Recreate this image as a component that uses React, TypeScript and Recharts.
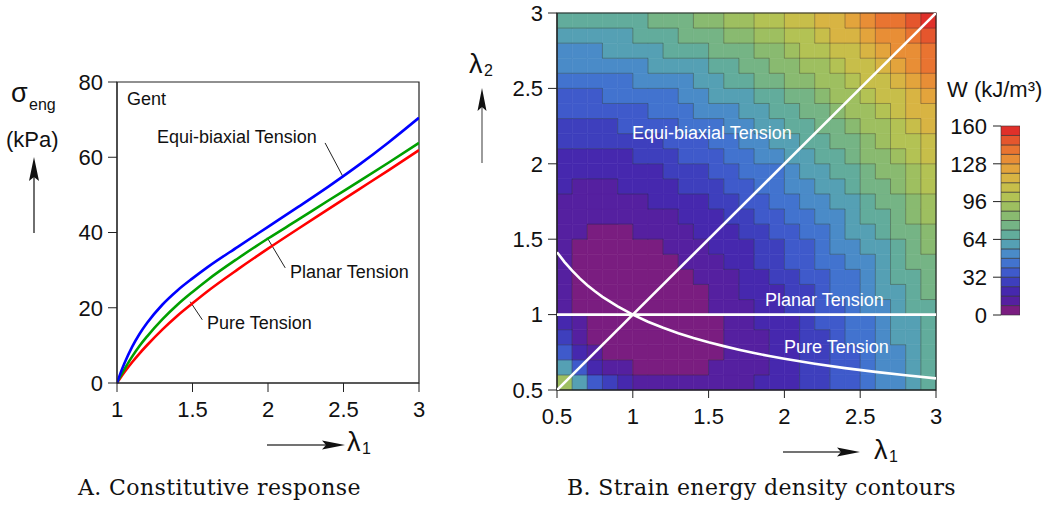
import React from 'react'
import {
  LineChart,
  Line,
  ComposedChart,
  Scatter,
  BarChart,
  Bar,
  XAxis,
  YAxis,
  ReferenceArea,
  ReferenceLine
} from 'recharts'

// ---------- panel A: constitutive response (Gent) ----------

const lambdaA = [1, 1.02, 1.05, 1.1, 1.15, 1.2, 1.3, 1.4, 1.5, 1.6, 1.8, 2, 2.2, 2.4, 2.6, 2.8, 3]
const pureStress = [0, 1.2, 2.9, 5.5, 7.9, 10.1, 14.2, 17.9, 21.2, 24.4, 30.2, 35.7, 41.0, 46.2, 51.4, 56.6, 61.9]
const planarStress = [0, 1.6, 3.7, 7.0, 9.9, 12.4, 16.9, 20.8, 24.2, 27.4, 33.1, 38.4, 43.4, 48.5, 53.5, 58.6, 63.8]
const equiStress = [0, 2.3, 5.3, 9.6, 13.1, 16.0, 20.8, 24.6, 27.8, 30.8, 36.2, 41.5, 46.8, 52.2, 57.9, 64.0, 70.5]
const stressTicks = [0, 20, 40, 60, 80]
const stretchTicksA = [1, 1.5, 2, 2.5, 3]

// leader lines from labels to curves (lambda, stress)
const leaderEqui = [{ x: 2.378, y: 63.8 }, { x: 2.497, y: 54.8 }]
const leaderPlanar = [{ x: 2.114, y: 30.6 }, { x: 1.995, y: 38.6 }]
const leaderPure = [{ x: 1.565, y: 16.8 }, { x: 1.485, y: 21.6 }]

// ---------- panel B: strain energy density W (kJ/m^3) ----------

// cell centres along lambda1 and lambda2
const cellCenters = [
  0.55, 0.65, 0.75, 0.85, 0.95, 1.05, 1.15, 1.25, 1.35, 1.45, 1.55, 1.65, 1.75,
  1.85, 1.95, 2.05, 2.15, 2.25, 2.35, 2.45, 2.55, 2.65, 2.75, 2.85, 2.95
]

// rows: lambda2 from 0.55 (bottom) to 2.95 (top); columns: lambda1 from 0.55 to 2.95
const energyGrid = [
  [89, 57, 38, 26, 19, 14, 11, 10, 9, 10, 11, 12.5, 14.5, 17, 20, 23, 27, 31, 35, 39, 44, 49, 54.5, 60, 66],
  [57, 35, 22, 14, 9.5, 7, 5, 5, 5, 6.5, 8.1, 10, 12.7, 15.5, 18.6, 22, 26, 30, 34, 39, 44, 49, 54.4, 60, 66],
  [38, 22, 13, 7.5, 4, 3, 2, 3, 4, 5, 7, 9, 12, 15, 18.5, 22, 26, 30, 35, 39, 44, 49.6, 55, 61, 67],
  [26, 14, 7.5, 3.6, 1.6, 0.8, 0.9, 1.7, 3, 4.8, 7, 9.6, 12.5, 15.6, 19, 23, 27, 31, 35.6, 40.4, 45, 51, 56.2, 62, 68],
  [19, 9.5, 4, 1.6, 0.3, 0.1, 0.6, 1.7, 3.3, 5.3, 7.7, 10.4, 13.4, 16.6, 20, 23.9, 28, 32.4, 37, 42, 47, 52, 58, 63.6, 70],
  [14, 7, 3, 0.8, 0.1, 0.3, 1.1, 2.5, 4.2, 6.4, 8.9, 11.7, 14.7, 18, 21.7, 25.5, 29.6, 34, 38.6, 43.5, 48.6, 54, 59.6, 65.5, 71.6],
  [11, 5, 2, 0.9, 0.6, 1.1, 2.2, 3.7, 5.6, 7.9, 10.5, 13.3, 16.5, 19.9, 23.5, 27.4, 31.6, 36, 40.6, 45.5, 50.7, 56.1, 61.7, 67.6, 73.8],
  [10, 5, 3, 1.7, 1.7, 2.5, 3.7, 5.4, 7.4, 9.7, 12.4, 15.3, 18.5, 22, 25.7, 29.6, 33.8, 38.2, 42.9, 47.8, 53, 58.4, 64.1, 70, 76.2],
  [9, 5, 4, 3, 3.3, 4.2, 5.6, 7.4, 9.5, 11.9, 14.6, 17.6, 20.9, 24.3, 28.1, 32.1, 36.3, 40.8, 45.5, 50.4, 55.6, 61, 66.8, 72.7, 78.9],
  [10, 6.5, 5, 4.8, 5.3, 6.4, 7.9, 9.7, 11.9, 14.4, 17.2, 20.2, 23.5, 27, 30.8, 34.8, 39, 43.5, 48.3, 53.2, 58.5, 63.9, 69.6, 75.6, 81.9],
  [11, 8.1, 7, 7, 7.7, 8.9, 10.5, 12.4, 14.6, 17.2, 20, 23, 26.3, 29.9, 33.7, 37.8, 42, 46.5, 51.3, 56.3, 61.5, 67, 72.8, 78.8, 85],
  [12.5, 10, 9, 9.6, 10.4, 11.7, 13.3, 15.3, 17.6, 20.2, 23, 26.1, 29.5, 33.1, 36.9, 41, 45.3, 49.8, 54.6, 59.6, 64.9, 70.4, 76.2, 82.2, 88.5],
  [14.5, 12.7, 12, 12.5, 13.4, 14.7, 16.5, 18.5, 20.9, 23.5, 26.3, 29.5, 32.9, 36.5, 40.3, 44.4, 48.7, 53.3, 58.1, 63.1, 68.4, 74, 79.8, 85.8, 92.1],
  [17, 15.5, 15, 15.6, 16.6, 18, 19.9, 22, 24.3, 27, 29.9, 33.1, 36.5, 40.1, 44, 48.1, 52.4, 57, 61.9, 66.9, 72.2, 77.8, 83.6, 89.7, 96.1],
  [20, 18.6, 18.5, 19, 20, 21.7, 23.5, 25.7, 28.1, 30.8, 33.7, 36.9, 40.3, 44, 47.9, 52, 56.4, 61, 65.9, 70.9, 76.3, 81.9, 87.7, 93.8, 100.2],
  [23, 22, 22, 23, 23.9, 25.5, 27.4, 29.6, 32.1, 34.8, 37.8, 41, 44.4, 48.1, 52, 56.2, 60.6, 65.2, 70.1, 75.2, 80.6, 86.2, 92.1, 98.2, 104.6],
  [27, 26, 26, 27, 28, 29.6, 31.6, 33.8, 36.3, 39, 42, 45.3, 48.7, 52.4, 56.4, 60.6, 65, 69.6, 74.5, 79.7, 85.1, 90.7, 96.7, 102.8, 109.3],
  [31, 30, 30, 31, 32.4, 34, 36, 38.2, 40.8, 43.5, 46.5, 49.8, 53.3, 57, 61, 65.2, 69.6, 74.3, 79.3, 84.4, 89.9, 95.5, 101.5, 107.7, 114.2],
  [35, 34, 35, 35.6, 37, 38.6, 40.6, 42.9, 45.5, 48.3, 51.3, 54.6, 58.1, 61.9, 65.9, 70.1, 74.5, 79.3, 84.2, 89.4, 94.9, 100.6, 106.6, 112.8, 119.3],
  [39, 39, 39, 40.4, 42, 43.5, 45.5, 47.8, 50.4, 53.2, 56.3, 59.6, 63.1, 66.9, 70.9, 75.2, 79.7, 84.4, 89.4, 94.7, 100.2, 105.9, 111.9, 118.2, 124.7],
  [44, 44, 44, 45, 47, 48.6, 50.7, 53, 55.6, 58.5, 61.5, 64.9, 68.4, 72.2, 76.3, 80.6, 85.1, 89.9, 94.9, 100.2, 105.7, 111.5, 117.5, 123.8, 130.4],
  [49, 49, 49.6, 51, 52, 54, 56.1, 58.4, 61, 63.9, 67, 70.4, 74, 77.8, 81.9, 86.2, 90.7, 95.5, 100.6, 105.9, 111.5, 117.3, 123.3, 129.7, 136.3],
  [54.5, 54.4, 55, 56.2, 58, 59.6, 61.7, 64.1, 66.8, 69.6, 72.8, 76.2, 79.8, 83.6, 87.7, 92.1, 96.7, 101.5, 106.6, 111.9, 117.5, 123.3, 129.5, 135.8, 142.5],
  [60, 60, 61, 62, 63.6, 65.5, 67.6, 70, 72.7, 75.6, 78.8, 82.2, 85.8, 89.7, 93.8, 98.2, 102.8, 107.7, 112.8, 118.2, 123.8, 129.7, 135.8, 142.3, 148.9],
  [66, 66, 67, 68, 70, 71.6, 73.8, 76.2, 78.9, 81.9, 85, 88.5, 92.1, 96.1, 100.2, 104.6, 109.3, 114.2, 119.3, 124.7, 130.4, 136.3, 142.5, 148.9, 155.7]
]

const contourLevels = [0, 8, 16, 24, 32, 40, 48, 56, 64, 72, 80, 88, 96, 104, 112, 120, 128, 136, 144, 152, 160]
const bandColors = [
  '#7a1d80', '#5520a0', '#4628ae', '#3e3fbd', '#3f5acb', '#4273cf', '#4a8bc8',
  '#55a0b4', '#62ac9c', '#75b485', '#89ba70', '#9ebf60', '#b3c254', '#c7be4a',
  '#d8b443', '#e3a43c', '#e88e36', '#e97431', '#e5562d', '#e0302a'
]
const energyTicks = [0, 32, 64, 96, 128, 160]
const stretchTicksB = [0.5, 1, 1.5, 2, 2.5, 3]

// loading paths in the (lambda1, lambda2) plane
const equiPath = [{ x: 0.5, y: 0.5 }, { x: 3, y: 3 }]
const pureL1 = [0.5, 0.55, 0.6, 0.65, 0.7, 0.75, 0.8, 0.9, 1, 1.1, 1.2, 1.3, 1.4, 1.5, 1.6, 1.7, 1.8, 1.9, 2, 2.2, 2.4, 2.6, 2.8, 3]
const pureL2 = [1.414, 1.348, 1.291, 1.24, 1.195, 1.155, 1.118, 1.054, 1, 0.953, 0.913, 0.877, 0.845, 0.816, 0.791, 0.767, 0.745, 0.725, 0.707, 0.674, 0.645, 0.62, 0.598, 0.577]
const planarLambda2 = 1

const SANS = '"Liberation Sans", Arial, Helvetica, sans-serif'
const SERIF = '"DejaVu Serif", "Liberation Serif", serif'
const tickStyle = { fontSize: 22, fill: '#111', fontFamily: SANS }

function Txt({ x, y, size = 18, color = '#111', family = SANS, spacing = 0, children }: any) {
  return (
    <div
      style={{
        position: 'absolute',
        left: x,
        top: y,
        fontSize: size,
        lineHeight: 1,
        color,
        fontFamily: family,
        letterSpacing: spacing,
        whiteSpace: 'nowrap'
      }}
    >
      {children}
    </div>
  )
}

function bandOf(w: number) {
  let i = 0
  while (i < bandColors.length - 1 && w >= contourLevels[i + 1]) i++
  return i
}

function PanelA() {
  const rows = lambdaA.map((l, i) => ({
    lambda: l,
    pure: pureStress[i],
    planar: planarStress[i],
    equi: equiStress[i]
  }))
  return (
    <div style={{ position: 'absolute', left: 0, top: 0 }}>
      <LineChart width={440} height={440} data={rows} margin={{ top: 82, right: 21, bottom: 27, left: 57 }}>
        <XAxis
          type="number"
          dataKey="lambda"
          domain={[1, 3]}
          ticks={stretchTicksA}
          allowDataOverflow
          height={30}
          tickSize={9}
          tickMargin={9}
          stroke="#222"
          tick={tickStyle}
        />
        <YAxis
          type="number"
          domain={[0, 80]}
          ticks={stressTicks}
          width={60}
          tickSize={9}
          tickMargin={5}
          stroke="#222"
          tick={tickStyle}
        />
        <ReferenceArea x1={1} x2={3} y1={0} y2={80} fill="none" stroke="#222" strokeWidth={1.2} />
        <ReferenceLine segment={leaderEqui} stroke="#222" strokeWidth={1} />
        <ReferenceLine segment={leaderPlanar} stroke="#222" strokeWidth={1} />
        <ReferenceLine segment={leaderPure} stroke="#222" strokeWidth={1} />
        <Line type="monotone" dataKey="pure" stroke="#ff0000" strokeWidth={2.6} dot={false} isAnimationActive={false} />
        <Line type="monotone" dataKey="planar" stroke="#00a000" strokeWidth={2.6} dot={false} isAnimationActive={false} />
        <Line type="monotone" dataKey="equi" stroke="#0000ff" strokeWidth={2.6} dot={false} isAnimationActive={false} />
      </LineChart>
    </div>
  )
}

function PanelB() {
  const half = 0.05
  const cells = energyGrid.flatMap((row, r) =>
    row.map((w, c) => (
      <ReferenceArea
        key={`c-${r}-${c}`}
        x1={cellCenters[c] - half}
        x2={cellCenters[c] + half}
        y1={cellCenters[r] - half}
        y2={cellCenters[r] + half}
        fill={bandColors[bandOf(w)]}
        fillOpacity={1}
        stroke={bandColors[bandOf(w)]}
        strokeWidth={0.6}
      />
    ))
  )

  // thin dark edges where neighbouring cells fall in different bands
  const edges: any[] = []
  energyGrid.forEach((row, r) => {
    row.forEach((w, c) => {
      const b = bandOf(w)
      const x = cellCenters[c]
      const y = cellCenters[r]
      if (c < row.length - 1 && bandOf(row[c + 1]) !== b) {
        edges.push(
          <ReferenceLine
            key={`v-${r}-${c}`}
            segment={[{ x: x + half, y: y - half }, { x: x + half, y: y + half }]}
            stroke="#2a2a2a"
            strokeOpacity={0.45}
            strokeWidth={0.8}
          />
        )
      }
      if (r < energyGrid.length - 1 && bandOf(energyGrid[r + 1][c]) !== b) {
        edges.push(
          <ReferenceLine
            key={`h-${r}-${c}`}
            segment={[{ x: x - half, y: y + half }, { x: x + half, y: y + half }]}
            stroke="#2a2a2a"
            strokeOpacity={0.45}
            strokeWidth={0.8}
          />
        )
      }
    })
  })

  const purePath = pureL1.map((x, i) => ({ x, y: pureL2[i] }))
  const planarPath = [{ x: 0.5, y: planarLambda2 }, { x: 3, y: planarLambda2 }]
  const lineProps = { stroke: '#ffffff', strokeWidth: 2.6 }
  return (
    <div style={{ position: 'absolute', left: 480, top: 0 }}>
      <ComposedChart width={470} height={440} margin={{ top: 13, right: 14, bottom: 10, left: 17 }}>
        <XAxis
          type="number"
          dataKey="x"
          domain={[0.5, 3]}
          ticks={stretchTicksB}
          allowDataOverflow
          height={40}
          tickSize={8}
          tickMargin={10}
          stroke="#222"
          tick={tickStyle}
        />
        <YAxis
          type="number"
          dataKey="y"
          domain={[0.5, 3]}
          ticks={stretchTicksB}
          allowDataOverflow
          width={60}
          tickSize={9}
          tickMargin={5}
          stroke="#222"
          tick={tickStyle}
        />
        {cells}
        {edges}
        <ReferenceArea x1={0.5} x2={3} y1={0.5} y2={3} fill="none" stroke="#222" strokeWidth={1.2} />
        <Scatter data={equiPath} line={lineProps} shape={() => <g />} isAnimationActive={false} />
        <Scatter data={planarPath} line={lineProps} shape={() => <g />} isAnimationActive={false} />
        <Scatter data={purePath} line={lineProps} shape={() => <g />} isAnimationActive={false} />
      </ComposedChart>
    </div>
  )
}

function ColorBar() {
  const row: any = { name: 'W' }
  contourLevels.slice(1).forEach((lv, i) => {
    row[`b${i}`] = lv - contourLevels[i]
  })
  return (
    <div style={{ position: 'absolute', left: 940, top: 100 }}>
      <BarChart width={80} height={240} data={[row]} barCategoryGap={0} margin={{ top: 26, right: 0, bottom: 25, left: 0 }}>
        <XAxis dataKey="name" hide />
        <YAxis
          type="number"
          domain={[0, 160]}
          ticks={energyTicks}
          width={61}
          axisLine={false}
          tickSize={8}
          tickMargin={6}
          stroke="#222"
          tick={tickStyle}
        />
        {bandColors.map((col, i) => (
          <Bar key={i} dataKey={`b${i}`} stackId="w" fill={col} stroke="#333" strokeWidth={0.6} isAnimationActive={false} />
        ))}
      </BarChart>
    </div>
  )
}

function Arrows() {
  return (
    <svg width={1055} height={506} style={{ position: 'absolute', left: 0, top: 0, pointerEvents: 'none' }}>
      {/* panel A, vertical */}
      <line x1={34} y1={233} x2={34} y2={175} stroke="#222" strokeWidth={1.3} />
      <polygon points="34,157 29,181 34,177 39,181" fill="#111" />
      {/* panel A, horizontal */}
      <line x1={267} y1={445} x2={328} y2={445} stroke="#444" strokeWidth={1.3} />
      <polygon points="345,445 322,440.5 326,445 322,449.5" fill="#111" />
      {/* panel B, horizontal */}
      <line x1={783} y1={452} x2={842} y2={452} stroke="#444" strokeWidth={1.3} />
      <polygon points="860,452 837,447.5 841,452 837,456.5" fill="#111" />
      {/* panel B, vertical */}
      <line x1={482} y1={163} x2={482} y2={106} stroke="#666" strokeWidth={1.3} />
      <polygon points="482,88 477.5,111 482,107 486.5,111" fill="#111" />
    </svg>
  )
}

export default function App() {
  return (
    <div style={{ position: 'absolute', left: 0, top: 0, width: 1055, height: 506, background: '#fff', overflow: 'hidden' }}>
      <PanelA />
      <PanelB />
      <ColorBar />
      <Arrows />

      {/* panel A labels */}
      <Txt x={11} y={80} size={27}>σ</Txt>
      <Txt x={29} y={97} size={16}>eng</Txt>
      <Txt x={6} y={129} size={22}>(kPa)</Txt>
      <Txt x={127} y={90}>Gent</Txt>
      <Txt x={157} y={128}>Equi-biaxial Tension</Txt>
      <Txt x={290} y={263}>Planar Tension</Txt>
      <Txt x={207} y={314}>Pure Tension</Txt>
      <Txt x={347} y={429} size={27}>λ</Txt>
      <Txt x={362} y={441} size={16}>1</Txt>

      {/* panel B labels */}
      <Txt x={632} y={124} color="#fff">Equi-biaxial Tension</Txt>
      <Txt x={765} y={291} color="#fff">Planar Tension</Txt>
      <Txt x={784} y={338} color="#fff">Pure Tension</Txt>
      <Txt x={874} y={437} size={27}>λ</Txt>
      <Txt x={889} y={449} size={16}>1</Txt>
      <Txt x={469} y={51} size={27}>λ</Txt>
      <Txt x={484} y={63} size={16}>2</Txt>
      <Txt x={947} y={79} size={22}>W (kJ/m³)</Txt>

      {/* captions */}
      <Txt x={78} y={477} size={22} spacing={0.4} family={SERIF}>A. Constitutive response</Txt>
      <Txt x={567} y={477} size={22} spacing={0.4} family={SERIF}>B. Strain energy density contours</Txt>
    </div>
  )
}
